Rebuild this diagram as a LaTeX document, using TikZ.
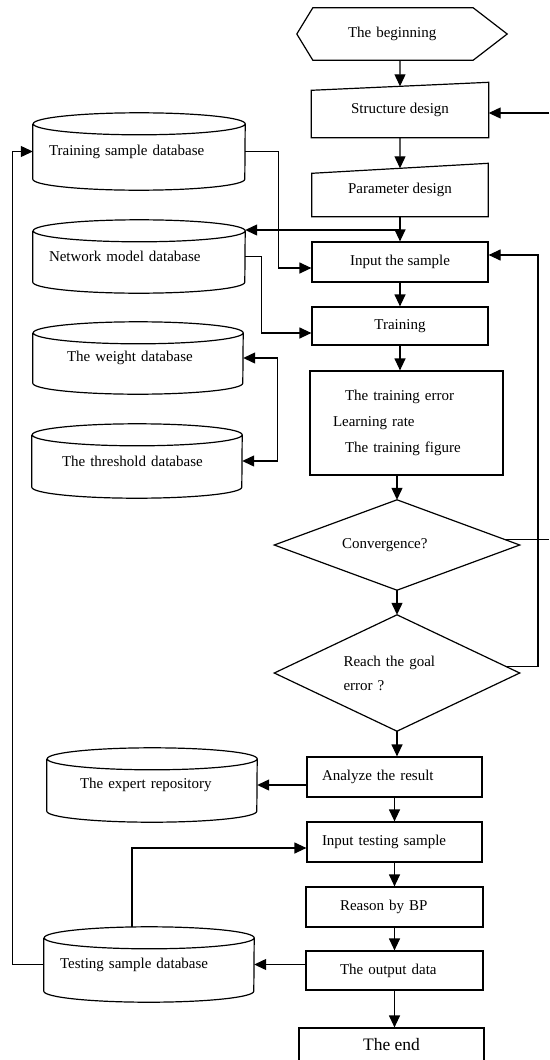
\documentclass[tikz,border=0pt]{standalone}
\usepackage{fontspec}
\setmainfont{Liberation Serif}
\usetikzlibrary{arrows.meta,calc}
\newcommand\dbcyl[3]{%
  \draw[ln] ([yshift=-#3]#1.north west) -- ([yshift=#3]#1.south west)
    arc[start angle=180,end angle=360,x radius=#2,y radius=#3]
    -- ([yshift=-#3]#1.north east)
    arc[start angle=0,end angle=360,x radius=#2,y radius=#3];}
\begin{document}
\begin{tikzpicture}[x=1pt,y=-1pt,
  ln/.style={line width=1.2pt},
  arr/.style={ln,-{Triangle[length=12pt,width=11pt]}},
  dbl/.style={ln,{Triangle[length=12pt,width=11pt]}-{Triangle[length=12pt,width=11pt]}},
  shp/.style={rectangle,inner sep=0pt,font=\fontsize{15}{18}\selectfont},
  boxn/.style={shp,draw,line width=1.2pt},
  tl/.style 2 args={align=left,inner xsep=#1,text width=#2}]
\fill[white] (0,0) rectangle (549,1060);
\useasboundingbox (0,0) rectangle (549,1060);

% ---- main column ----
\node[shp,tl={51pt}{108pt},minimum width=210pt,minimum height=52pt] (begin) at (402,34) {The beginning};
\draw[ln] (begin.west) -- ([xshift=16pt]begin.north west) -- ([xshift=-34pt]begin.north east) -- (begin.east) -- ([xshift=-34pt]begin.south east) -- ([xshift=16pt]begin.south west) -- cycle;

\node[shp,minimum width=177pt,minimum height=55pt] (structure) at (400,110) {Structure design};
\draw[ln] (structure.south west) -- ([yshift=-8pt]structure.north west) -- (structure.north east) -- (structure.south east) -- cycle;

\node[shp,minimum width=176pt,minimum height=53pt] (param) at (400,190) {Parameter design};
\draw[ln] (param.south west) -- ([yshift=-10pt]param.north west) -- (param.north east) -- (param.south east) -- cycle;

\node[boxn,minimum width=176pt,minimum height=40pt] (input) at (400,262) {Input the sample};
\node[boxn,minimum width=176pt,minimum height=38pt] (training) at (400,326) {Training};
\node[boxn,tl={23pt}{147pt},minimum width=193pt,minimum height=104pt,font=\fontsize{15}{26}\selectfont] (results) at (406.5,423)
  {\hspace*{12pt}The training error\\Learning rate\\\hspace*{12pt}The training figure};

\node[shp,tl={67.5pt}{110pt},minimum width=245pt,minimum height=90pt] (conv) at (397,545) {Convergence?};
\draw[ln] (conv.north) -- (conv.east) -- (conv.south) -- (conv.west) -- cycle;

\node[shp,tl={69pt}{107pt},minimum width=245pt,minimum height=116pt,font=\fontsize{15}{24}\selectfont] (reach) at (397,673) {Reach the goal\\error ?};
\draw[ln] (reach.north) -- (reach.east) -- (reach.south) -- (reach.west) -- cycle;

\node[boxn,tl={15pt}{145pt},minimum width=175pt,minimum height=40pt] (analyze) at (394.5,777) {Analyze the result};
\node[boxn,tl={15pt}{145pt},minimum width=175pt,minimum height=40pt] (inputtest) at (394.5,842) {Input testing sample};
\node[boxn,tl={34pt}{109pt},minimum width=177pt,minimum height=40pt] (reason) at (394.5,907) {Reason by BP};
\node[boxn,tl={34pt}{109pt},minimum width=177pt,minimum height=39pt] (output) at (394.5,970.5) {The output data};
\node[boxn,minimum width=185pt,minimum height=34pt,font=\fontsize{17.5}{20}\selectfont] (end) at (391.5,1045) {The end};

% ---- databases ----
\node[shp,tl={16pt}{180pt},minimum width=212pt,minimum height=77pt] (tsdb) at (139,151.5) {Training sample database};
\dbcyl{tsdb}{106pt}{11pt}
\node[shp,tl={16pt}{180pt},minimum width=212pt,minimum height=73pt] (nmdb) at (139,256.5) {Network model database};
\dbcyl{nmdb}{106pt}{11pt}
\node[shp,tl={34pt}{142pt},minimum width=210pt,minimum height=72pt] (wdb) at (138,358) {The weight database};
\dbcyl{wdb}{105pt}{11pt}
\node[shp,tl={30pt}{150pt},minimum width=210pt,minimum height=74pt] (tdb) at (137,461) {The threshold database};
\dbcyl{tdb}{105pt}{11pt}
\node[shp,tl={33pt}{144pt},minimum width=210pt,minimum height=74pt] (expert) at (152,785) {The expert repository};
\dbcyl{expert}{105pt}{11pt}
\node[shp,tl={16pt}{178pt},minimum width=210pt,minimum height=75pt] (testing) at (149,964.5) {Testing sample database};
\dbcyl{testing}{105pt}{11pt}

% ---- helper coordinates ----
\coordinate (j) at (400,230);
\coordinate (rs) at (549,113);
\coordinate (rv) at (538,0);
\coordinate (cs) at ($(conv.north)!0.87!(conv.east)$);
\coordinate (rf) at ($(reach.north)!0.89!(reach.east)$);

% ---- main flow connectors ----
\draw[arr] (begin.south -| structure.north) -- ($([yshift=-8pt]structure.north west)!0.5!(structure.north east)$);
\draw[arr] (structure.south) -- ($([yshift=-10pt]param.north west)!0.5!(param.north east)$);
\draw[arr] (param.south) -- (input.north);
\draw[arr] (input.south) -- (training.north);
\draw[arr] (training.south) -- (training.south |- results.north);
\draw[arr] (results.south -| conv.north) -- (conv.north);
\draw[arr] (conv.south) -- (reach.north);
\draw[arr] (reach.south) -- (reach.south |- analyze.north);
\draw[arr] (analyze.south) -- (inputtest.north);
\draw[arr] (inputtest.south) -- (reason.north);
\draw[arr] (reason.south) -- (output.north);
\draw[arr] (output.south) -- (output.south |- end.north);

% ---- side connectors ----
\draw[arr] (j) -- (j -| nmdb.east);
\draw[arr] (rs) -- (rs -| structure.east);
\draw[ln] (cs) -- (cs -| rs);
\draw[arr] (rf) -- (rf -| rv) -- ([yshift=7pt]rv |- input.east) -- ([yshift=7pt]input.east);
\draw[arr] (tsdb.east) -| ([xshift=-33pt,yshift=-6pt]input.west) -- ([yshift=-6pt]input.west);
\draw[arr] (nmdb.east) -| ([xshift=-50pt,yshift=-7pt]training.west) -- ([yshift=-7pt]training.west);
\draw[dbl] (wdb.east) -- ++(34,0) |- (tdb.east);
\draw[arr] (testing.west) -- ++(-31,0) |- (tsdb.west);
\draw[arr] ([xshift=-17pt]testing.north) |- ([yshift=-6pt]inputtest.west);
\draw[arr] (output.west |- testing.east) -- (testing.east);
\draw[arr] (analyze.west |- expert.east) -- (expert.east);
\end{tikzpicture}
\end{document}
